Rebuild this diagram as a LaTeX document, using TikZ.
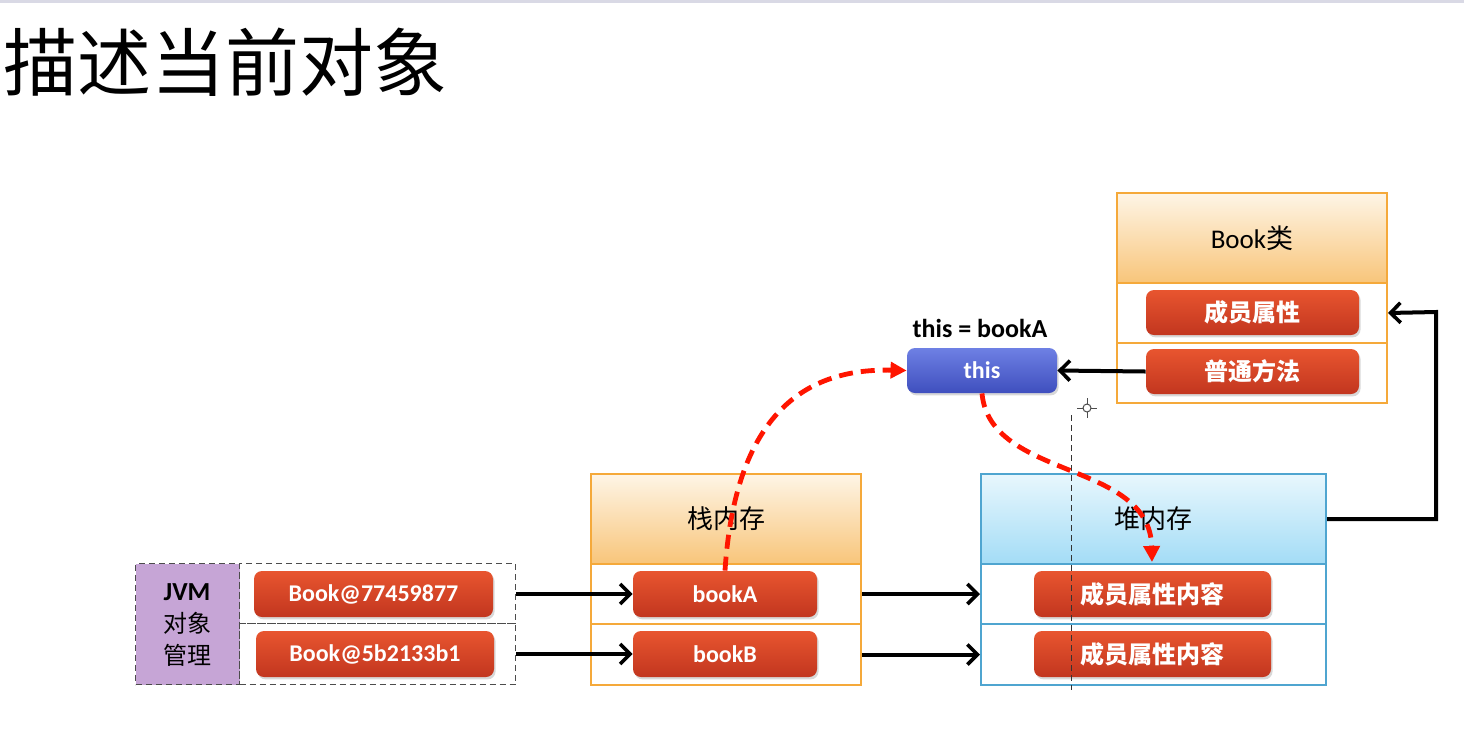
\documentclass[tikz,border=0pt]{standalone}
\usepackage{fontspec}
\setmainfont{Carlito}
\newfontfamily\cjk{Noto Sans CJK SC}
\usetikzlibrary{arrows.meta,shadows,positioning}
\definecolor{btnTop}{HTML}{E8552F}
\definecolor{btnBot}{HTML}{C2361F}
\definecolor{bluTop}{HTML}{6E80E4}
\definecolor{bluBot}{HTML}{3F4FBE}
\definecolor{orBorder}{HTML}{F5A93A}
\definecolor{orTop}{HTML}{FEF5E6}
\definecolor{orBot}{HTML}{F8C57A}
\definecolor{blBorder}{HTML}{4FA5D0}
\definecolor{blTop}{HTML}{E8F7FD}
\definecolor{blBot}{HTML}{A3DCF6}
\definecolor{purp}{HTML}{C6A5D6}
\definecolor{dashred}{HTML}{FF1500}
\tikzset{
  btn/.style={rounded corners=4pt, top color=btnTop, bottom color=btnBot, draw=none,
    text=white, font=\cjk\bfseries\fontsize{12}{14}\selectfont, inner sep=0pt,
    minimum height=23pt, drop shadow={opacity=0.3, shadow xshift=0.8pt, shadow yshift=-1.2pt}},
  btnblue/.style={btn, top color=bluTop, bottom color=bluBot},
  hdrO/.style={draw=orBorder, line width=1pt, top color=orTop, bottom color=orBot, inner sep=0pt,
    anchor=north west, font=\cjk\fontsize{13}{15}\selectfont},
  hdrB/.style={hdrO, draw=blBorder, top color=blTop, bottom color=blBot},
  rowO/.style={draw=orBorder, line width=1pt, fill=white, inner sep=0pt, anchor=north west},
  rowB/.style={rowO, draw=blBorder},
  jvmcell/.style={draw=black!70, densely dashed, line width=0.5pt, inner sep=0pt, anchor=north west},
  blk/.style={line width=2pt, -{Straight Barb[length=5pt,width=10pt,line width=1.8pt]}},
  redc/.style={dashred, line width=2.4pt, dash pattern=on 7pt off 4pt,
    -{Triangle[length=8pt,width=8pt,sep=0pt]}}
}
\begin{document}
\begin{tikzpicture}[x=0.5pt,y=-0.5pt]
\useasboundingbox (0,0) rectangle (1464,730);
\fill[white] (0,0) rectangle (1464,730);
\fill[blue!20!gray!25] (0,0) rectangle (1464,3);

% title
\node[anchor=west, inner sep=0pt, font=\cjk\fontsize{37}{40}\selectfont] (title) at (3,62) {描述当前对象};

% JVM block
\node[jvmcell, fill=purp, minimum width=52pt, minimum height=60.5pt] (jvm) at (135,563) {};
\node[jvmcell, minimum width=138pt, minimum height=30pt] (jr1) at (239,563) {};
\node[jvmcell, minimum width=138pt, minimum height=30.5pt] (jr2) at (239,623) {};
\node[font=\bfseries\fontsize{13}{15}\selectfont, inner sep=0pt] (jvmt1) at (187,592) {JVM};
\node[font=\cjk\fontsize{12}{14}\selectfont, inner sep=0pt] (jvmt2) at (187,623) {对象};
\node[font=\cjk\fontsize{12}{14}\selectfont, inner sep=0pt] (jvmt3) at (187,655) {管理};
\node[btn, minimum width=119.5pt, font=\bfseries\fontsize{12}{14}\selectfont] (b1) at (373.5,594) {Book@77459877};
\node[btn, minimum width=119pt, font=\bfseries\fontsize{12}{14}\selectfont] (b2) at (375,654) {Book@5b2133b1};

% stack
\node[hdrO, minimum width=135pt, minimum height=45pt] (stackH) at (590,473) {栈内存};
\node[rowO, minimum width=135pt, minimum height=30pt] (sr1) at (590,563) {};
\node[rowO, minimum width=135pt, minimum height=30.5pt] (sr2) at (590,623) {};
\node[btn, minimum width=92pt, font=\bfseries\fontsize{12}{14}\selectfont] (bookA) at (725,594) {bookA};
\node[btn, minimum width=92pt, font=\bfseries\fontsize{12}{14}\selectfont] (bookB) at (725,654) {bookB};

% heap
\node[hdrB, minimum width=172.5pt, minimum height=45pt] (heapH) at (980,473) {堆内存};
\node[rowB, minimum width=172.5pt, minimum height=30pt] (hr1) at (980,563) {};
\node[rowB, minimum width=172.5pt, minimum height=30.5pt] (hr2) at (980,623) {};
\node[btn, minimum width=118.5pt] (m1) at (1152.5,594) {成员属性内容};
\node[btn, minimum width=118.5pt] (m2) at (1152.5,654) {成员属性内容};

% Book class
\node[hdrO, minimum width=135pt, minimum height=45pt, font={\fontsize{13.5}{15}\selectfont}] (classH) at (1116,192) {Book{\cjk 类}};
\node[rowO, minimum width=135pt, minimum height=30pt] (cr1) at (1116,282) {};
\node[rowO, minimum width=135pt, minimum height=30pt] (cr2) at (1116,342) {};
\node[btn, minimum width=106.5pt, minimum height=22.5pt] (attr) at (1252.5,312.5) {成员属性};
\node[btn, minimum width=106.5pt, minimum height=22.5pt] (meth) at (1252.5,371.5) {普通方法};

% this
\node[btnblue, minimum width=75pt, minimum height=22.5pt, font=\bfseries\fontsize{12}{14}\selectfont] (this) at (982,370.5) {this};
\node[font=\bfseries\fontsize{13}{15}\selectfont, inner sep=0pt] (thisl) at (980,328) {this = bookA};

% black arrows
\draw[blk] (jr1.east |- bookA.west) -- (bookA.west);
\draw[blk] (jr2.east |- bookB.west) -- (bookB.west);
\draw[blk] (sr1.east) -- (hr1.west);
\draw[blk] (sr2.east) -- (hr2.west);
\draw[blk] (meth.west) -- (this.east);
\coordinate (corner) at (1436,312);
\draw[blk] (heapH.east) -| (corner) -- (cr1.east);

% cursor artefacts
\draw[black!80, line width=0.5pt, dash pattern=on 3pt off 2pt] (1071,415) -- (1071,690);
\draw[black!70, line width=0.5pt] (1077,408) -- (1097,408) (1087,398) -- (1087,418);
\draw[black!70, line width=0.5pt, fill=white] (1087,408) circle (2pt);

% red dashed curves
\draw[redc] (bookA.north) .. controls (735,420) and (800,368) .. (this.west);
\draw[redc] (this.south) .. controls (990,480) and (1150,460) .. (1152,562);
\end{tikzpicture}
\end{document}
